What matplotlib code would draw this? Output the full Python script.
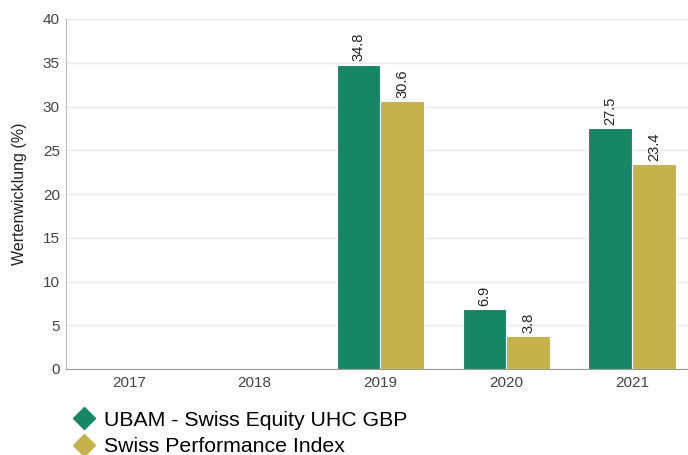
import matplotlib
matplotlib.use("Agg")
import matplotlib.pyplot as plt
from matplotlib.lines import Line2D
import numpy as np

plt.rcParams['font.family'] = ['Liberation Sans', 'DejaVu Sans']

years = ["2017", "2018", "2019", "2020", "2021"]
fund_name = "UBAM - Swiss Equity UHC GBP"
index_name = "Swiss Performance Index"
fund_values = [None, None, 34.8, 6.9, 27.5]
index_values = [None, None, 30.6, 3.8, 23.4]
y_ticks = [0, 5, 10, 15, 20, 25, 30, 35, 40]

green = "#168665"
gold = "#C5B24A"

fig = plt.figure(figsize=(6.88, 4.55), dpi=100)
ax = fig.add_axes([66/688, 1-369/455, 629/688, (369-19)/455])

x = np.arange(len(years))
w = 0.347
for vals, off, col in [(fund_values, -w/2, green), (index_values, w/2, gold)]:
    for xi, v in zip(x, vals):
        if v is None:
            continue
        ax.bar(xi + off, v, width=w, color=col, edgecolor="white", linewidth=0.8, zorder=3)
        ax.text(xi + off, v + 0.35, f"{v:.1f}", rotation=90, ha="center", va="bottom",
                fontsize=10.5, color="#222222", zorder=4)

ax.set_xlim(-0.5, len(years) - 0.5)
ax.set_ylim(0, 40)
ax.set_yticks(y_ticks)
ax.set_xticks(x)
ax.set_xticklabels(years)
ax.tick_params(axis="both", length=0, labelsize=11, colors="#444444")
ax.tick_params(axis="y", pad=4.5)
ax.tick_params(axis="x", pad=5)
ax.grid(axis="y", color="#e8e8e8", linewidth=1, zorder=0)
for s in ["top", "right"]:
    ax.spines[s].set_visible(False)
ax.spines["left"].set_color("#bbbbbb")
ax.spines["bottom"].set_color("#999999")
ax.set_ylabel("Wertenwicklung (%)", fontsize=11.5, color="#222222", labelpad=11)

handles = [Line2D([], [], marker="D", linestyle="none", markersize=11, color=green),
           Line2D([], [], marker="D", linestyle="none", markersize=11, color=gold)]
fig.legend(handles, [fund_name, index_name], loc="upper left",
           bbox_to_anchor=(65/688, 1-402/455), frameon=False, fontsize=15.3,
           handletextpad=0.45, labelspacing=0.35, borderaxespad=0, handlelength=1.0)

fig.savefig("out.png", dpi=100)
